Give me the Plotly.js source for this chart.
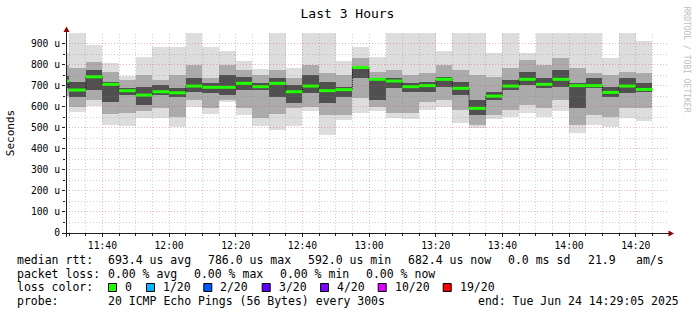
<!DOCTYPE html>
<html><head><meta charset="utf-8">
<script src="https://cdn.plot.ly/plotly-3.0.1.min.js"></script>
<style>html,body{margin:0;padding:0;background:#fff}</style>
</head><body><div id="chart" style="width:697px;height:315px"></div>
<script>
// ---- data (microseconds), one entry per 5-minute interval (start time) ----
const binStarts = ['11:25','11:30','11:35','11:40','11:45','11:50','11:55','12:00','12:05','12:10','12:15','12:20',
  '12:25','12:30','12:35','12:40','12:45','12:50','12:55','13:00','13:05','13:10','13:15','13:20',
  '13:25','13:30','13:35','13:40','13:45','13:50','13:55','14:00','14:05','14:10','14:15','14:20'];
const smokeMax = [857,960,895,808,745,837,884,884,960,884,865,818,777,960,782,960,960,816,884,837,960,960,960,865,960,960,853,960,857,960,960,960,960,832,960,911];
const smokeHi1 = [800,785,813,766,726,750,726,750,797,734,797,774,750,774,734,797,758,750,829,766,774,750,758,797,774,750,742,782,821,797,829,782,760,750,766,758];
const smokeHi2 = [745,718,774,718,687,695,703,687,734,711,750,742,711,734,703,750,718,695,789,734,734,711,718,742,718,632,671,726,766,734,774,711,734,695,734,711];
const medianRtt = [722,679,742,706,676,655,671,666,698,692,692,711,695,711,671,698,676,681,786,730,722,695,700,730,687,592,650,698,730,706,730,700,700,668,698,682];
const smokeLo2 = [690,647,679,624,655,608,655,647,671,663,655,679,679,647,616,663,616,647,734,632,687,671,671,695,655,561,632,679,703,687,695,592,687,647,663,671];
const smokeLo1 = [650,600,632,564,568,580,592,553,632,592,632,592,545,564,592,600,560,561,639,600,568,568,624,632,584,513,561,584,608,592,632,513,561,553,592,592];
const smokeMin = [639,576,605,513,510,548,545,502,600,564,621,561,510,489,510,580,466,537,568,580,545,542,584,600,521,497,542,553,568,553,580,474,513,505,545,532];

const xTickTimes = ['11:40','12:00','12:20','12:40','13:00','13:20','13:40','14:00','14:20'];
const yTickVals = [0,100,200,300,400,500,600,700,800,900];
const yTickText = ['0','100 u','200 u','300 u','400 u','500 u','600 u','700 u','800 u','900 u'];

const statsRtt = ['693.4 us avg','786.0 us max','592.0 us min','682.4 us now','0.0 ms sd','21.9','am/s'];
const statsLoss = ['0.00 % avg','0.00 % max','0.00 % min','0.00 % now'];
const lossLabels = ['0','1/20','2/20','3/20','4/20','10/20','19/20'];
const lossColors = ['#20ff00','#00b8ff','#0059ff','#5e00ff','#7e00ff','#dd00ff','#ff0000'];

// ---- helpers ----
const BIN = 5*60*1000;
function ms(hm){ const p = hm.split(':').map(Number); return Date.UTC(2025,5,24,p[0],p[1],p[2]||0); }
function iso(v){ return new Date(v).toISOString().replace('T',' ').replace('Z',''); }
const X0 = ms('11:29:05'), X1 = ms('14:29:05'), YMAX = 950;
const L = 66, T = 33, W = 600, H = 200;
const PX = x => (x - L) / W;
const PY = y => (T + H - y) / H;
const snapX = t => PX(Math.floor(L + (t - X0) / (X1 - X0) * W) + 0.5);
const snapY = v => PY(Math.floor(T + H - v / YMAX * H) + 0.5);

const xs = binStarts.map(s => iso(ms(s)));
function band(lo, hi, color){
  return {type:'bar', x: xs, base: lo, y: hi.map((h,i) => h - lo[i]), width: BIN, offset: 0,
    marker:{color: color, line:{width:0}}, hoverinfo:'skip', showlegend:false};
}
const traces = [
  band(smokeMin, smokeMax, '#dddddd'),
  band(smokeLo1, smokeHi1, '#ababab'),
  band(smokeLo2, smokeHi2, '#505050')
];
// dark step connector
const stepX = xs.concat([iso(ms(binStarts[binStarts.length-1]) + BIN)]);
const stepY = medianRtt.concat([medianRtt[medianRtt.length-1]]);
traces.push({type:'scatter', mode:'lines', x: stepX, y: stepY, line:{shape:'hv', color:'#000', width:1, dash:'1px,1px'}, hoverinfo:'skip', showlegend:false});
// green median segments
const mx = [], my = [];
binStarts.forEach((s,i) => { mx.push(iso(ms(s)), iso(ms(s)+BIN), null); my.push(medianRtt[i], medianRtt[i], null); });
traces.push({type:'scatter', mode:'lines', x: mx, y: my, line:{color: lossColors[0], width:3}, hoverinfo:'skip', showlegend:false});

// ---- grid (drawn above data like rrdtool) ----
const shapes = [];
const gridMinor = 'rgba(128,128,128,0.38)', gridMajor = 'rgba(220,70,70,0.38)';
for (let v = 50; v < YMAX; v += 50) {
  const y = snapY(v);
  shapes.push({type:'line', xref:'paper', yref:'paper', x0:0, x1:PX(668), y0:y, y1:y, layer:'above',
    line:{color: v % 100 === 0 ? gridMajor : gridMinor, width:1, dash:'1px,2px'}});
}
for (let t = ms('11:30'); t < X1; t += BIN) {
  const x = snapX(t);
  const major = ((t - ms('11:40')) % (20*60*1000)) === 0;
  shapes.push({type:'line', xref:'paper', yref:'paper', x0:x, x1:x, y0:0, y1:PY(T), layer:'above',
    line:{color: major ? gridMajor : gridMinor, width:1, dash:'1px,2px'}});
}
// axes + arrows
shapes.push({type:'line', xref:'paper', yref:'paper', x0:PX(62), x1:PX(669), y0:PY(233.5), y1:PY(233.5), layer:'above', line:{color:'#1f1f1f', width:1}});
shapes.push({type:'line', xref:'paper', yref:'paper', x0:PX(66.5), x1:PX(66.5), y0:PY(237), y1:PY(31), layer:'above', line:{color:'#1f1f1f', width:1}});
shapes.push({type:'path', xref:'paper', yref:'paper', layer:'above', fillcolor:'#8b0000', line:{width:0},
  path:`M${PX(674)},${PY(233.5)} L${PX(668.5)},${PY(230.5)} L${PX(668.5)},${PY(236.5)} Z`});
shapes.push({type:'path', xref:'paper', yref:'paper', layer:'above', fillcolor:'#8b0000', line:{width:0},
  path:`M${PX(66.5)},${PY(26.5)} L${PX(63.5)},${PY(32)} L${PX(69.5)},${PY(32)} Z`});

// ---- legend text ----
const MONO = 'DejaVu Sans Mono';
const ann = [];
function txt(x, y, s, opt){
  ann.push(Object.assign({xref:'paper', yref:'paper', x:PX(x), y:PY(y), text:s, showarrow:false,
    xanchor:'left', yanchor:'middle', borderpad:0, font:{family:MONO, size:11.5, color:'#000'}}, opt||{}));
}
txt(16, 259.5, 'median rtt:');
[107,207,307,406.5,506.5,586.5,635].forEach((x,i) => txt(x, 259.5, statsRtt[i]));
txt(16, 273.5, 'packet loss:');
[107.3,193.3,279.3,365].forEach((x,i) => txt(x, 273.5, statsLoss[i]));
txt(16, 287, 'loss color:');
[108,146,203.3,261.7,320,377.7,442.7].forEach((x,i) => {
  shapes.push({type:'rect', xref:'paper', yref:'paper', x0:PX(x+0.5), x1:PX(x+8.5), y0:PY(283.5), y1:PY(291.5),
    fillcolor: lossColors[i], line:{color:'#000', width:1}});
  txt(x+16, 287, lossLabels[i]);
});
txt(16, 301, 'probe:');
txt(107.3, 301, '20 ICMP Echo Pings (56 Bytes) every 300s');
txt(680, 301, 'end: Tue Jun 24 14:29:05 2025', {xanchor:'right'});
ann.push({xref:'paper', yref:'paper', x:PX(686.5), y:PY(59), text:'RRDTOOL / TOBI OETIKER', textangle:90,
  showarrow:false, xanchor:'center', yanchor:'middle', font:{family:MONO, size:8, color:'#bdbdbd'}});

const layout = {
  width:697, height:315, margin:{l:L, r:697-L-W, t:T, b:315-T-H, pad:0},
  paper_bgcolor:'#ffffff', plot_bgcolor:'#ffffff', showlegend:false, barmode:'overlay', bargap:0,
  title:{text:'Last 3 Hours', x:347.5/697, xref:'container', xanchor:'center', y:1-13/315, yanchor:'middle',
    font:{family:MONO, size:13, color:'#000'}},
  xaxis:{type:'date', range:[iso(X0), iso(X1)], tickvals: xTickTimes.map(s => iso(ms(s))), ticktext: xTickTimes,
    showgrid:false, zeroline:false, showline:false, ticks:'outside', ticklen:3, tickcolor:'#1f1f1f',
    tickfont:{family:MONO, size:9.7, color:'#000'},
    minor:{tickvals: binStarts.slice(1).map(s => iso(ms(s))).concat([iso(ms('14:25'))]), ticks:'outside', ticklen:2, tickcolor:'#1f1f1f', showgrid:false}},
  yaxis:{range:[0, YMAX], tickvals:yTickVals, ticktext:yTickText, showgrid:false, zeroline:false, showline:false,
    ticks:'outside', ticklen:3, tickcolor:'#1f1f1f', tickfont:{family:MONO, size:9.7, color:'#000'},
    minor:{tickvals:[50,150,250,350,450,550,650,750,850], ticks:'outside', ticklen:2, tickcolor:'#1f1f1f', showgrid:false},
    title:{text:'Seconds', standoff:14, font:{family:MONO, size:11, color:'#000'}}},
  shapes: shapes, annotations: ann
};
Plotly.newPlot('chart', traces, layout, {staticPlot:true, displayModeBar:false});
</script></body></html>
